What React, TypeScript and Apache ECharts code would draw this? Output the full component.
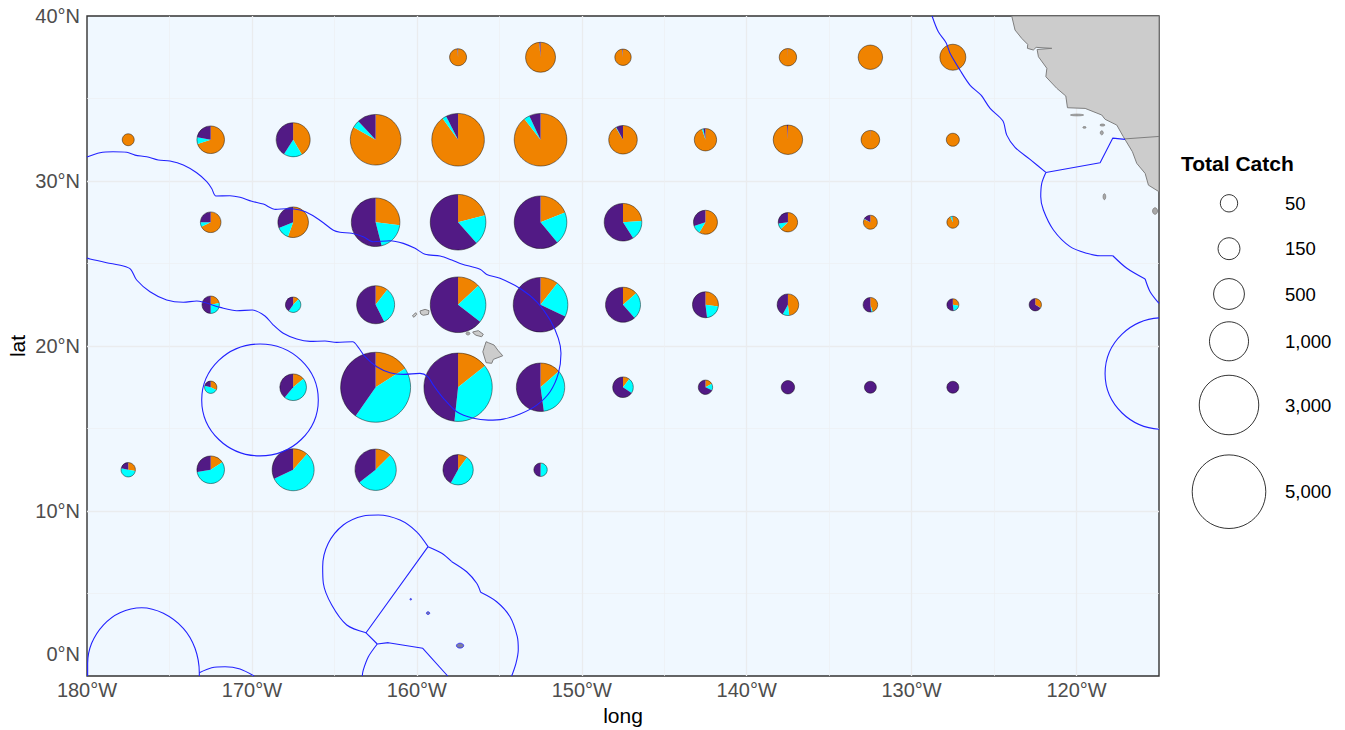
import React, { useEffect, useRef } from "react";
import * as echarts from "echarts";

const ORANGE = "#F08300";
const CYAN = "#00FFFF";
const PURPLE = "#521A85";
const FONT = "'Liberation Sans', Arial, sans-serif";

// total catch per cell, and the percentage of each of the three groups
const pieLon = [
  -157.5, -152.5, -147.5, -137.5, -132.5, -127.5,
  -177.5, -172.5, -167.5, -162.5, -157.5, -152.5, -147.5, -142.5, -137.5, -132.5, -127.5,
  -172.5, -167.5, -162.5, -157.5, -152.5, -147.5, -142.5, -137.5, -132.5, -127.5,
  -172.5, -167.5, -162.5, -157.5, -152.5, -147.5, -142.5, -137.5, -132.5, -127.5, -122.5,
  -172.5, -167.5, -162.5, -157.5, -152.5, -147.5, -142.5, -137.5, -132.5, -127.5,
  -177.5, -172.5, -167.5, -162.5, -157.5, -152.5,
];
const pieLat = [
  37.5, 37.5, 37.5, 37.5, 37.5, 37.5,
  32.5, 32.5, 32.5, 32.5, 32.5, 32.5, 32.5, 32.5, 32.5, 32.5, 32.5,
  27.5, 27.5, 27.5, 27.5, 27.5, 27.5, 27.5, 27.5, 27.5, 27.5,
  22.5, 22.5, 22.5, 22.5, 22.5, 22.5, 22.5, 22.5, 22.5, 22.5, 22.5,
  17.5, 17.5, 17.5, 17.5, 17.5, 17.5, 17.5, 17.5, 17.5, 17.5,
  12.5, 12.5, 12.5, 12.5, 12.5, 12.5,
];
const pieTotal = [
  45, 458, 36, 51, 227, 285,
  1, 350, 672, 2000, 2208, 2208, 393, 162, 430, 73, 5,
  117, 490, 1800, 2540, 2208, 900, 214, 88, 11, 1,
  51, 24, 928, 2540, 2425, 732, 285, 142, 16, 1, 2,
  2, 310, 4440, 4200, 1780, 117, 14, 7, 1, 1,
  14, 350, 1222, 1170, 476, 7,
];
const pieOrange = [
  98.5, 98.5, 98.5, 99.5, 100, 100,
  100, 70, 41.5, 83.2, 90, 89.5, 91.5, 95, 99, 99.5, 100,
  68, 55.5, 27, 21, 19, 24, 58.5, 63, 82, 93,
  22, 12.5, 10.5, 13, 10.5, 13.5, 27, 48, 45, 28, 33,
  32, 14, 16, 14.3, 13.6, 10.5, 17, 0, 0, 0,
  28, 16, 11.5, 12.5, 10, 2,
];
const pieCyan = [
  0.3, 0.2, 0.3, 0, 0, 0,
  0, 8, 17.5, 4.8, 2.5, 3.5, 0.7, 2, 0, 0, 0,
  7, 13.5, 19, 17.5, 20, 17, 11.5, 10, 1, 6,
  28, 47, 32, 22.5, 21.5, 25, 21, 10, 3, 20, 1,
  47, 47, 43.7, 37.4, 34.2, 24, 15, 0, 0, 0,
  50.6, 56.5, 56.5, 52, 48, 48,
];
const piePurple = [
  1.2, 1.3, 1.2, 0.5, 0, 0,
  0, 22, 41, 12, 7.5, 7, 7.8, 3, 1, 0.5, 0,
  25, 31, 54, 61.5, 61, 59, 30, 27, 17, 1,
  50, 40.5, 57.5, 64.5, 68, 61.5, 52, 42, 52, 52, 66,
  21, 39, 40.3, 48.3, 52.2, 65.5, 68, 100, 100, 100,
  21.4, 27.5, 32, 35.5, 42, 50,
];

// legend breaks
const legendCatch = [50, 150, 500, 1000, 3000, 5000];
const legendLabels = ["50", "150", "500", "1,000", "3,000", "5,000"];

// tick values
const lonTicksInterval = 10;
const latTicksInterval = 10;

// EEZ boundaries as [lon, lat]
const eezHawaii = [
  [-180, 31.45], [-179.21, 31.71], [-178.42, 31.77], [-177.59, 31.74], [-177.09, 31.57], [-176.38, 31.47],
  [-175.68, 31.27], [-174.97, 31.21], [-174.16, 30.97], [-173.35, 30.5], [-172.74, 29.96], [-172.44, 29.55],
  [-172.18, 29.09], [-171.33, 29.11], [-170.72, 29.01], [-170.01, 28.77], [-169.31, 28.6], [-168.56, 28.28],
  [-167.89, 28.32], [-167.08, 28.24], [-166.37, 27.94], [-165.67, 27.47], [-165.06, 27.01], [-164.66, 26.89],
  [-163.95, 26.83], [-163.25, 26.62], [-162.64, 26.32], [-161.63, 26.38], [-160.82, 26.22], [-160.11, 25.92],
  [-159.5, 25.56], [-158.59, 25.45], [-157.88, 25.21], [-157.28, 24.97], [-156.17, 24.65], [-155.76, 24.34],
  [-154.96, 24.1], [-153.74, 23.49], [-152.73, 22.68], [-151.92, 21.57], [-151.42, 20.46], [-151.26, 19.56],
  [-151.42, 18.34], [-151.92, 17.23], [-152.73, 16.42], [-153.74, 15.88], [-154.76, 15.57], [-155.67, 15.51],
  [-156.57, 15.62], [-157.58, 16.02], [-158.39, 16.83], [-159.0, 17.63], [-159.34, 18.14], [-159.81, 18.34],
  [-160.82, 18.28], [-161.63, 18.38], [-162.43, 18.74], [-163.14, 19.35], [-163.55, 19.92], [-163.89, 20.26],
  [-164.86, 20.22], [-165.57, 20.3], [-166.48, 20.28], [-167.28, 20.42], [-168.1, 20.77], [-168.7, 21.27],
  [-169.21, 21.82], [-169.98, 22.18], [-170.92, 22.14], [-171.93, 22.34], [-173.35, 22.73], [-174.16, 22.65],
  [-175.17, 22.79], [-176.18, 23.29], [-176.99, 24.0], [-177.35, 24.65], [-177.8, 24.85], [-178.81, 25.05],
  [-179.82, 25.27], [-180, 25.33],
];
const eezCaliforniaCurve = [
  [-128.76, 40], [-128.38, 39.04], [-127.91, 38.38], [-127.67, 37.74], [-127.06, 36.71], [-126.45, 35.8],
  [-125.79, 35.2], [-125.24, 34.4], [-124.47, 33.65], [-124.23, 32.78], [-123.73, 32.04], [-122.82, 31.31], [-121.86, 30.52],
];
const eezCaliforniaStraight = [[-121.86, 30.52], [-118.57, 31.11], [-117.8, 32.6], [-117.06, 32.52]];
const eezMexicoArc = [
  [-121.86, 30.52], [-122.11, 29.86], [-122.17, 29.05], [-122.01, 28.24], [-121.4, 27.03], [-120.39, 26.02],
  [-119.38, 25.62], [-118.57, 25.47], [-117.8, 25.47],
];
const eezMexicoMid = [[-117.8, 25.47], [-116.95, 24.71], [-115.84, 24.06]];
const eezMexicoEnd = [[-115.84, 24.06], [-115.54, 23.29], [-115, 22.58]];
const eezHowland = [
  [-179.96, 0], [-179.96, 0.77], [-179.72, 1.98], [-179.01, 3.09], [-178.0, 3.84], [-176.68, 4.14], [-175.37, 3.8],
  [-174.16, 2.89], [-173.45, 1.68], [-173.19, 0.2], [-173.19, 0],
];
const eezPhoenix = [[-173.19, 0.2], [-172.44, 0.5], [-171.63, 0.56], [-170.72, 0.42], [-169.87, 0]];
const eezKingmanWest = [
  [-163.08, 2.62], [-164.25, 3.09], [-165.16, 4.3], [-165.67, 5.62], [-165.71, 6.62], [-165.37, 8.04], [-164.46, 9.15],
  [-163.25, 9.7], [-162.34, 9.76], [-161.02, 9.45], [-160.01, 8.74], [-159.32, 7.84],
];
const eezKingmanEastA = [[-159.32, 7.84], [-158.49, 7.44], [-157.88, 6.93]];
const eezKingmanEastB = [[-157.88, 6.93], [-156.98, 6.32], [-156.37, 5.62], [-156.13, 5.07]];
const eezKingmanEastC = [[-156.13, 5.07], [-155.16, 4.5], [-154.35, 3.59], [-153.91, 2.38], [-153.85, 1.58], [-153.99, 0.77], [-154.25, 0]];
const eezDivider = [[-159.32, 7.84], [-163.08, 2.62], [-162.4, 1.94]];
const eezSouth = [[-162.4, 1.94], [-161.73, 2.02], [-159.64, 1.68], [-158.13, 0]];
const eezSouthArc = [[-162.4, 1.94], [-162.94, 1.17], [-163.25, 0.36], [-163.31, 0]];
const eezCurves = [
  eezHawaii, eezCaliforniaCurve, eezMexicoArc, eezMexicoMid, eezMexicoEnd, eezHowland, eezPhoenix,
  eezKingmanWest, eezKingmanEastA, eezKingmanEastB, eezKingmanEastC, eezSouthArc,
];
const eezStraights = [eezCaliforniaStraight, eezDivider, eezSouth];
// circular EEZs: lon, lat, half-width in degrees lon, half-height in degrees lat
const eezRings = [
  [-169.51, 16.73, 3.535, 3.39],
  [-114.75, 18.33, 3.52, 3.38],
];

// land as [lon, lat]
const landBigIsland = [[-155.8, 20.26], [-156.0, 19.65], [-155.8, 18.99], [-155.46, 18.95], [-155.36, 19.19], [-154.79, 19.41], [-155.06, 19.71], [-155.32, 20.06], [-155.66, 20.2]];
const landMaui = [[-156.61, 20.85], [-156.27, 20.93], [-155.97, 20.71], [-156.07, 20.56], [-156.41, 20.65], [-156.57, 20.77]];
const landKauai = [[-159.81, 22.12], [-159.5, 22.22], [-159.26, 22.14], [-159.3, 21.92], [-159.61, 21.86], [-159.76, 21.94]];
const landNiihau = [[-160.27, 21.82], [-160.07, 22.02], [-160.01, 21.92], [-160.17, 21.74]];
const landCalifornia = [
  [-123.93, 40], [-123.73, 39.15], [-123.32, 38.64], [-122.96, 38.28], [-122.98, 38.04], [-122.62, 37.94], [-122.45, 38.1],
  [-121.5, 38.04], [-122.39, 37.97], [-122.31, 37.53], [-121.8, 36.83], [-121.86, 36.32], [-121.2, 35.62], [-120.65, 35.15],
  [-120.55, 34.44], [-119.48, 34.4], [-118.47, 34.0], [-118.27, 33.74], [-117.56, 33.39], [-117.16, 32.68], [-116.61, 31.77],
  [-116.35, 31.07], [-115.84, 30.46], [-115.64, 29.75], [-115, 29.35], [-115, 40],
];
const landShapes = [landBigIsland, landMaui, landKauai, landNiihau, landCalifornia];
const landBorder = [[-117.1, 32.55], [-115, 32.7]];
// small islands: lon, lat, half-width, half-height
const smallIslands = [
  [-156.9, 20.76, 0.12, 0.09], [-119.97, 34.0, 0.4, 0.05], [-119.52, 33.25, 0.1, 0.05], [-118.43, 33.39, 0.15, 0.06],
  [-118.47, 32.92, 0.09, 0.12], [-118.31, 29.05, 0.08, 0.18], [-115.24, 28.18, 0.15, 0.2],
];
const equatorIslands = [[-160.37, 4.65, 0.05, 0.05], [-159.32, 3.81, 0.1, 0.08], [-157.38, 1.84, 0.22, 0.15]];

const radiusOf = (catchValue: number) => 5.54 + 0.442 * Math.sqrt(catchValue);

const LEGEND_X = 1229;
const legendY = [203.3, 248.7, 294, 341.3, 405, 491.7];
const EEZ_COLOR = "#2222FF";

function buildOption() {
  const series: any[] = [];

  series.push({
    type: "custom",
    coordinateSystem: "cartesian2d",
    clip: true,
    silent: true,
    z: 2,
    data: landShapes.map((s, i) => [s[0][0], s[0][1], i]),
    renderItem: (_p: any, api: any) => ({
      type: "polygon",
      shape: { points: landShapes[api.value(2)].map((c) => api.coord(c)) },
      style: { fill: "#CCCCCC", stroke: "#7F7F7F", lineWidth: 1 },
    }),
  });
  series.push({
    type: "custom",
    coordinateSystem: "cartesian2d",
    clip: true,
    silent: true,
    z: 2,
    data: smallIslands,
    renderItem: (_p: any, api: any) => {
      const c = api.coord([api.value(0), api.value(1)]);
      const s = api.size([api.value(2), api.value(3)]);
      return {
        type: "ellipse",
        shape: { cx: c[0], cy: c[1], rx: s[0], ry: s[1] },
        style: { fill: "#A8A8A8", stroke: "#7F7F7F", lineWidth: 0.8 },
      };
    },
  });
  series.push({
    type: "line",
    data: landBorder,
    symbol: "none",
    silent: true,
    z: 2,
    lineStyle: { color: "#7F7F7F", width: 1 },
  });

  series.push({
    type: "custom",
    coordinateSystem: "cartesian2d",
    clip: false,
    silent: true,
    z: 3,
    data: pieLon.map((lon, i) => [lon, pieLat[i], pieTotal[i], pieOrange[i], pieCyan[i], piePurple[i]]),
    renderItem: (_p: any, api: any) => {
      const c = api.coord([api.value(0), api.value(1)]);
      const r = radiusOf(api.value(2));
      const parts = [
        [api.value(3), ORANGE],
        [api.value(4), CYAN],
        [api.value(5), PURPLE],
      ];
      const sum = parts.reduce((a, p) => a + (p[0] as number), 0);
      let angle = -Math.PI / 2;
      const children: any[] = [];
      parts.forEach(([v, color]) => {
        const sweep = ((v as number) / sum) * Math.PI * 2;
        if (sweep > 0) {
          children.push({
            type: "sector",
            shape: { cx: c[0], cy: c[1], r, r0: 0, startAngle: angle, endAngle: angle + sweep, clockwise: true },
            style: { fill: color as string, stroke: null },
          });
        }
        angle += sweep;
      });
      children.push({
        type: "circle",
        shape: { cx: c[0], cy: c[1], r },
        style: { fill: "none", stroke: "#000000", lineWidth: 0.6, opacity: 0.75 },
      });
      return { type: "group", children };
    },
  });

  eezCurves.forEach((line) => {
    series.push({
      type: "line",
      data: line,
      symbol: "none",
      smooth: 0.3,
      smoothMonotone: "none",
      silent: true,
      z: 4,
      lineStyle: { color: EEZ_COLOR, width: 1.1 },
    });
  });
  eezStraights.forEach((line) => {
    series.push({
      type: "line",
      data: line,
      symbol: "none",
      silent: true,
      z: 4,
      lineStyle: { color: EEZ_COLOR, width: 1.1 },
    });
  });
  series.push({
    type: "custom",
    coordinateSystem: "cartesian2d",
    clip: true,
    silent: true,
    z: 4,
    data: eezRings,
    renderItem: (_p: any, api: any) => {
      const c = api.coord([api.value(0), api.value(1)]);
      const s = api.size([api.value(2), api.value(3)]);
      return {
        type: "ellipse",
        shape: { cx: c[0], cy: c[1], rx: s[0], ry: s[1] },
        style: { fill: "none", stroke: EEZ_COLOR, lineWidth: 1.1 },
      };
    },
  });
  series.push({
    type: "custom",
    coordinateSystem: "cartesian2d",
    clip: true,
    silent: true,
    z: 4,
    data: equatorIslands,
    renderItem: (_p: any, api: any) => {
      const c = api.coord([api.value(0), api.value(1)]);
      const s = api.size([api.value(2), api.value(3)]);
      return {
        type: "ellipse",
        shape: { cx: c[0], cy: c[1], rx: s[0], ry: s[1] },
        style: { fill: "#7F7F9F", stroke: EEZ_COLOR, lineWidth: 0.8 },
      };
    },
  });

  const legendGraphics: any[] = [
    {
      type: "text",
      x: 1181,
      y: 163,
      style: { text: "Total Catch", fill: "#000000", font: `bold 21px ${FONT}`, verticalAlign: "middle" },
    },
  ];
  legendCatch.forEach((v, i) => {
    legendGraphics.push({
      type: "circle",
      shape: { cx: LEGEND_X, cy: legendY[i], r: radiusOf(v) },
      style: { fill: "#FFFFFF", stroke: "#000000", lineWidth: 0.8 },
    });
    legendGraphics.push({
      type: "text",
      x: 1285,
      y: legendY[i],
      style: { text: legendLabels[i], fill: "#000000", font: `18.5px ${FONT}`, verticalAlign: "middle" },
    });
  });

  const gridLine = { lineStyle: { color: "#EAECEE", width: 1.3 }, showMinLine: false, showMaxLine: false };
  const minorLine = { lineStyle: { color: "#ECEFF2", width: 0.7 } };

  return {
    animation: false,
    backgroundColor: "#FFFFFF",
    grid: {
      left: 87,
      top: 16,
      width: 1072,
      height: 660,
      outerBoundsMode: "none",
      containLabel: false,
      show: true,
      backgroundColor: "#F0F8FF",
      borderColor: "#333333",
      borderWidth: 1.4,
    },
    xAxis: {
      type: "value",
      min: -180,
      max: -115,
      interval: lonTicksInterval,
      name: "long",
      nameLocation: "middle",
      nameGap: 29,
      nameTextStyle: { color: "#000000", fontFamily: FONT, fontSize: 21 },
      axisLine: { show: false },
      axisTick: { show: false },
      axisLabel: {
        color: "#4D4D4D",
        fontFamily: FONT,
        fontSize: 20,
        margin: 4,
        hideOverlap: false,
        showMinLabel: true,
        formatter: (v: number) => (v === -115 ? "" : `${Math.abs(v)}°W`),
      },
      splitLine: { show: true, ...gridLine },
      minorTick: { show: false, splitNumber: 2 },
      minorSplitLine: { show: true, ...minorLine },
    },
    yAxis: {
      type: "value",
      min: 0,
      max: 40,
      interval: latTicksInterval,
      name: "lat",
      nameLocation: "middle",
      nameGap: 59,
      nameMoveOverlap: false,
      nameTextStyle: { color: "#000000", fontFamily: FONT, fontSize: 21 },
      axisLine: { show: false },
      axisTick: { show: false },
      axisLabel: {
        color: "#4D4D4D",
        fontFamily: FONT,
        fontSize: 20,
        margin: 7,
        formatter: (v: number) => (v === 0 ? "{low|0°N}" : `${v}°N`),
        rich: { low: { color: "#4D4D4D", fontFamily: FONT, fontSize: 20, padding: [0, 0, 44, 0] } },
      },
      splitLine: { show: true, ...gridLine },
      minorTick: { show: false, splitNumber: 2 },
      minorSplitLine: { show: true, ...minorLine },
    },
    graphic: legendGraphics,
    series,
  };
}

export default function App() {
  const ref = useRef<HTMLDivElement>(null);
  useEffect(() => {
    document.body.style.margin = "0";
    const chart = echarts.init(ref.current!, undefined, { renderer: "svg" });
    chart.setOption(buildOption());
    return () => chart.dispose();
  }, []);
  return <div ref={ref} style={{ position: "absolute", left: 0, top: 0, width: 1345, height: 730 }} />;
}
